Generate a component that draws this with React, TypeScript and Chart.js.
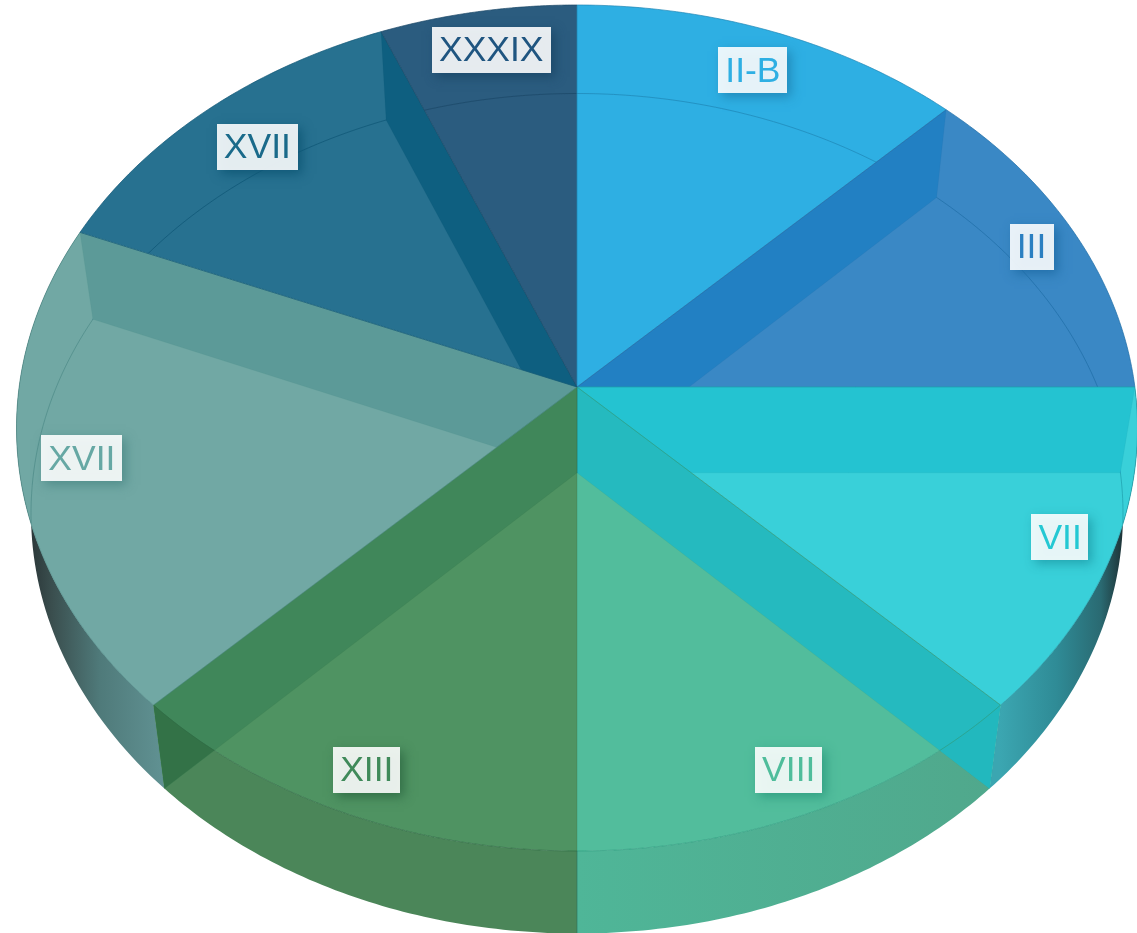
import React, { useEffect, useRef } from "react";
import { Chart, registerables } from "chart.js";

Chart.register(...registerables);

const categories = ["II-B", "III", "VII", "VIII", "XIII", "XVII", "XVII", "XXXIX"];
const sliceValues = [2, 2, 2, 2, 2, 3, 2, 1];

const faceColors = ["#2eafe3", "#3a88c5", "#39d0d9", "#52bd9c", "#4f9362", "#71a8a4", "#277190", "#2b5c7f"];
const edgeColors = ["#1f86b5", "#1f6da6", "#1fa0ac", "#2f9c80", "#2f6b45", "#4d8a88", "#0e5675", "#1b4767"];
const textColors = ["#2eafe3", "#2a7fc1", "#24c8d3", "#4fbd9b", "#3f8a5a", "#66a8a4", "#1a6a8a", "#1f5580"];
const wallColors = ["", "#2280c3", "#24c3d1", "#25babf", "#40875a", "#5c9a98", "#0e5f80", ""];
const lowerWallColors = ["", "", "", "#22b8be", "#337247", "", "", ""];
const labelNudgeX = [-1, 8, 6, 4, -2.5, 3, 13, 4];
const labelNudgeY = [4, -1, 2, 6, 6, -3, 10, 2];

type Disc = { cx: number; cy: number; rx: number; ry: number };
const topDisc: Disc = { cx: 577, cy: 428, rx: 560.5, ry: 423 };
const bottomDisc: Disc = { cx: 577, cy: 513.5, rx: 546, ry: 420 };
const tilt = -0.097;

function project(d: Disc, r: number, a: number): [number, number] {
  const u = r * Math.cos(a);
  const v = r * Math.sin(a);
  const den = 1 + tilt * v;
  return [d.cx + (d.rx * u * Math.sqrt(1 - tilt * tilt)) / den, d.cy + (d.ry * (v + tilt)) / den];
}

function rim(ctx: CanvasRenderingContext2D, d: Disc, a: number, b: number, move: boolean) {
  const n = 64;
  for (let k = 0; k <= n; k++) {
    const [x, y] = project(d, 1, a + ((b - a) * k) / n);
    if (k === 0 && move) ctx.moveTo(x, y);
    else ctx.lineTo(x, y);
  }
}

function wedge(ctx: CanvasRenderingContext2D, d: Disc, a: number, b: number) {
  ctx.beginPath();
  const [x, y] = project(d, 0, 0);
  ctx.moveTo(x, y);
  rim(ctx, d, a, b, false);
  ctx.closePath();
}

function discPath(ctx: CanvasRenderingContext2D, d: Disc) {
  ctx.ellipse(d.cx, d.cy, d.rx, d.ry, 0, 0, Math.PI * 2);
}

function bandGradient(ctx: CanvasRenderingContext2D, x0: number, x1: number, stops: [number, string][]) {
  const g = ctx.createLinearGradient(x0, 0, x1, 0);
  stops.forEach(([p, c]) => g.addColorStop(p, c));
  return g;
}

const pie3d = {
  id: "pie3d",
  beforeDatasetDraw(chart: any) {
    const ctx: CanvasRenderingContext2D = chart.ctx;
    const arcs = chart.getDatasetMeta(0).data as any[];
    const band = (i: number, fill: any) => {
      ctx.beginPath();
      rim(ctx, topDisc, arcs[i].startAngle, arcs[i].endAngle, true);
      rim(ctx, bottomDisc, arcs[i].endAngle, arcs[i].startAngle, false);
      ctx.closePath();
      ctx.fillStyle = fill;
      ctx.fill();
    };
    ctx.save();
    ctx.lineJoin = "round";

    // outer curved walls
    band(2, bandGradient(ctx, 1000, 1126, [[0, "#3ba6b1"], [0.45, "#2f8b96"], [0.8, "#2a6a72"], [1, "#1c2b2e"]]));
    band(5, bandGradient(ctx, 24, 162, [[0, "#263032"], [0.2, "#3a4e4e"], [0.55, "#4f7a7a"], [1, "#609192"]]));
    band(3, bandGradient(ctx, 577, 990, [[0, "#4fb698"], [1, "#50a88c"]]));
    band(4, "#4b8659");

    // top faces
    arcs.forEach((arc, i) => {
      wedge(ctx, topDisc, arc.startAngle, arc.endAngle);
      ctx.fillStyle = faceColors[i];
      ctx.fill();
    });

    // back of the lower rim seen through the faces
    ctx.save();
    ctx.beginPath();
    discPath(ctx, topDisc);
    ctx.clip();
    arcs.forEach((arc, i) => {
      if (i === 3 || i === 4) return;
      ctx.beginPath();
      rim(ctx, bottomDisc, arc.startAngle, arc.endAngle, true);
      ctx.strokeStyle = edgeColors[i];
      ctx.globalAlpha = 0.7;
      ctx.lineWidth = 1;
      ctx.stroke();
    });
    ctx.restore();

    // inner radial walls, back to front
    const walls: [number, "startAngle" | "endAngle"][] = [
      [1, "startAngle"], [2, "startAngle"], [3, "startAngle"],
      [6, "endAngle"], [5, "endAngle"], [4, "endAngle"],
    ];
    walls.forEach(([i, key]) => {
      const a = arcs[i][key];
      const quad = () => {
        ctx.beginPath();
        const p = [project(topDisc, 0, 0), project(topDisc, 1, a), project(bottomDisc, 1, a), project(bottomDisc, 0, 0)];
        ctx.moveTo(p[0][0], p[0][1]);
        p.slice(1).forEach(([x, y]) => ctx.lineTo(x, y));
        ctx.closePath();
      };
      quad();
      ctx.fillStyle = wallColors[i];
      ctx.fill();
      ctx.strokeStyle = edgeColors[i];
      ctx.globalAlpha = 0.15;
      ctx.lineWidth = 1;
      ctx.stroke();
      ctx.globalAlpha = 1;
      if (lowerWallColors[i]) {
        ctx.save();
        ctx.beginPath();
        ctx.rect(0, 0, chart.width, chart.height);
        discPath(ctx, topDisc);
        ctx.clip("evenodd");
        quad();
        ctx.fillStyle = lowerWallColors[i];
        ctx.fill();
        ctx.restore();
      }
    });

    // slice boundaries and rims
    arcs.forEach((arc, i) => {
      const [ax, ay] = project(topDisc, 0, 0);
      const [sx, sy] = project(topDisc, 1, arc.startAngle);
      ctx.strokeStyle = edgeColors[i];
      ctx.lineWidth = 1;
      ctx.globalAlpha = i === 4 ? 0.25 : 0.7;
      ctx.beginPath();
      ctx.moveTo(ax, ay);
      ctx.lineTo(sx, sy);
      ctx.stroke();
      ctx.globalAlpha = 0.7;
      ctx.beginPath();
      rim(ctx, topDisc, arc.startAngle, arc.endAngle, true);
      ctx.stroke();
      ctx.globalAlpha = 1;
    });
    // seam at the front of the outer wall
    const front = arcs[4].startAngle;
    const [fx, fy] = project(topDisc, 1, front);
    const [gx, gy] = project(bottomDisc, 1, front);
    ctx.beginPath();
    ctx.moveTo(fx, fy);
    ctx.lineTo(gx, gy);
    ctx.strokeStyle = "rgba(40,110,90,0.6)";
    ctx.stroke();
    ctx.restore();
    return false;
  },
  afterDraw(chart: any) {
    const ctx: CanvasRenderingContext2D = chart.ctx;
    const arcs = chart.getDatasetMeta(0).data as any[];
    ctx.save();
    ctx.font = "35.5px 'Liberation Sans', Arial, sans-serif";
    ctx.textAlign = "center";
    ctx.textBaseline = "middle";
    arcs.forEach((arc, i) => {
      const mid = (arc.startAngle + arc.endAngle) / 2;
      const [ax, ay] = project(topDisc, 0.895, mid);
      const x = ax + labelNudgeX[i];
      const y = ay + labelNudgeY[i];
      const w = ctx.measureText(categories[i]).width + 14;
      const h = 46;
      ctx.save();
      ctx.shadowColor = edgeColors[i];
      ctx.shadowBlur = 10;
      ctx.shadowOffsetX = 4;
      ctx.shadowOffsetY = 4;
      ctx.fillStyle = "rgba(255,255,255,0.89)";
      ctx.fillRect(Math.round(x - w / 2), Math.round(y - h / 2), Math.round(w), h);
      ctx.restore();
      ctx.fillStyle = textColors[i];
      ctx.fillText(categories[i], x, y + 1.5);
    });
    ctx.restore();
  },
};

export default function App() {
  const ref = useRef<HTMLCanvasElement>(null);
  useEffect(() => {
    const chart = new Chart(ref.current as HTMLCanvasElement, {
      type: "pie",
      data: {
        labels: categories,
        datasets: [{ data: sliceValues, backgroundColor: faceColors, borderWidth: 0 }],
      },
      options: {
        animation: false,
        responsive: false,
        devicePixelRatio: 1,
        plugins: { legend: { display: false }, tooltip: { enabled: false } },
      },
      plugins: [pie3d as any],
    });
    return () => chart.destroy();
  }, []);
  return (
    <div style={{ position: "absolute", left: 0, top: 0, width: 1137, height: 933, overflow: "hidden", background: "#fff" }}>
      <canvas ref={ref} width={1137} height={933} style={{ display: "block" }} />
    </div>
  );
}
